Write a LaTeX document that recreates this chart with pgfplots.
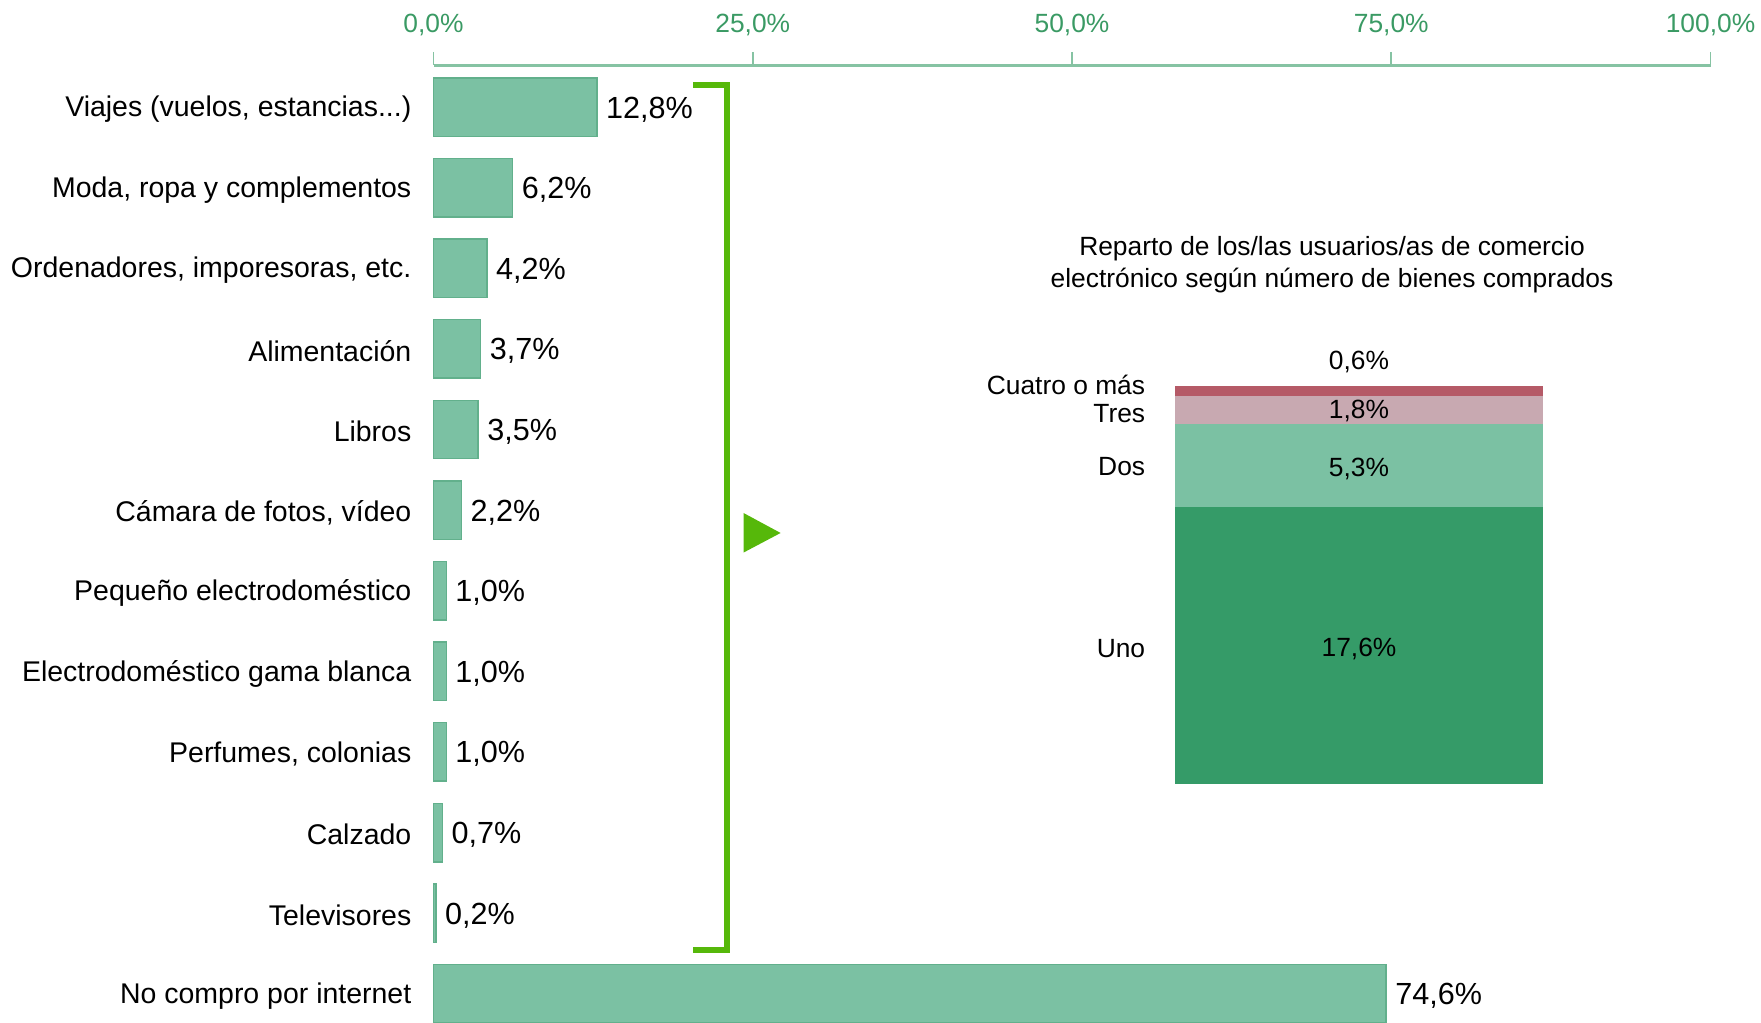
\documentclass[border=0pt]{standalone}
\usepackage{fontspec}
\setmainfont{Liberation Sans}
\usepackage{pgfplots}
\pgfplotsset{compat=1.18}

\definecolor{barfill}{HTML}{7BC1A3}
\definecolor{bardraw}{HTML}{62B08C}
\definecolor{unogreen}{HTML}{359B68}
\definecolor{tresrose}{HTML}{C8A9B1}
\definecolor{cuatrored}{HTML}{B55A67}
\definecolor{brgreen}{HTML}{56B80A}
\definecolor{tickgreen}{HTML}{3A9A64}
\definecolor{axisgreen}{HTML}{86C3A3}

\newcommand{\catfont}{\fontsize{8.1}{9.7}\selectfont}
\newcommand{\valfont}{\fontsize{8.7}{10.4}\selectfont}
\newcommand{\smallfont}{\fontsize{7.5}{9}\selectfont}

\begin{document}
\begin{tikzpicture}
\useasboundingbox (0,0) rectangle (176.1mm,102.3mm);

% main bar chart
\begin{axis}[
  at={(43.35mm,0mm)}, anchor=south west,
  scale only axis, width=127.7mm, height=95.75mm,
  xbar, bar width=5.84mm,
  xmin=0, xmax=100, ymin=-0.362, ymax=11.517,
  axis x line*=top, axis y line*=left,
  y axis line style={draw=none},
  x axis line style={draw=axisgreen, line width=0.6pt},
  xtick={0,25,50,75,100},
  xticklabels={{0,0\%},{25,0\%},{50,0\%},{75,0\%},{100,0\%}},
  xtick align=outside, major tick length=1.35mm,
  xtick style={draw=axisgreen, line width=0.5pt},
  xticklabel style={font=\smallfont, text=tickgreen, anchor=base, inner sep=0pt, yshift=1.95mm},
  ytick={0,1,2,3,4,5,6,7,8,9,10,11},
  yticklabels={No compro por internet, Televisores, Calzado, {Perfumes, colonias},
    Electrodoméstico gama blanca, Pequeño electrodoméstico, {Cámara de fotos, vídeo},
    Libros, Alimentación, {Ordenadores, imporesoras, etc.},
    {Moda, ropa y complementos}, {Viajes (vuelos, estancias.{}.{}.)}},
  ytick style={draw=none},
  yticklabel style={font=\catfont, anchor=east, inner sep=0pt, xshift=-0.8mm, yshift=-0.22mm},
  point meta=x,
  /pgf/number format/assume math mode=true,
  nodes near coords={\pgfmathprintnumber[fixed,fixed zerofill,precision=1,use comma]{\pgfplotspointmeta}\%},
  nodes near coords style={font=\valfont, anchor=west, inner sep=0pt, xshift=0.84mm, yshift=-0.22mm},
  clip=false,
]
\addplot[fill=barfill, draw=bardraw, line width=0.4pt] coordinates {
  (74.6,0) (0.2,1) (0.7,2) (1.0,3) (1.0,4) (1.0,5)
  (2.2,6) (3.5,7) (3.7,8) (4.2,9) (6.2,10) (12.8,11)};
\end{axis}

% stacked bar: number of goods bought
\begin{axis}[
  at={(117.48mm,23.9mm)}, anchor=south west,
  scale only axis, width=36.84mm, height=39.76mm,
  ybar stacked, bar width=36.84mm,
  xmin=-0.5, xmax=0.5, ymin=0, ymax=25.3,
  hide axis, clip=false,
]
\addplot[fill=unogreen, draw=none] coordinates {(0,17.6)};
\addplot[fill=barfill, draw=none] coordinates {(0,5.3)};
\addplot[fill=tresrose, draw=none] coordinates {(0,1.8)};
\addplot[fill=cuatrored, draw=none] coordinates {(0,0.6)};
\coordinate (v1) at (axis cs:0,8.72);
\coordinate (v2) at (axis cs:0,20.23);
\coordinate (v3) at (axis cs:0,23.87);
\coordinate (v4) at (axis cs:0,27.02);
\coordinate (c1) at (axis cs:-0.5,8.8);
\coordinate (c2) at (axis cs:-0.5,20.35);
\coordinate (c3) at (axis cs:-0.5,23.73);
\coordinate (c4) at (axis cs:-0.5,25.52);
\end{axis}

\begin{scope}[every node/.style={font=\smallfont, yshift=-0.25mm}]
\node at (v1) {17,6\%};
\node at (v2) {5,3\%};
\node at (v3) {1,8\%};
\node at (v4) {0,6\%};
\end{scope}
\begin{scope}[every node/.style={font=\smallfont, anchor=east, inner sep=0pt, xshift=-2.9mm, yshift=-0.25mm}]
\node at (c1) {Uno};
\node at (c2) {Dos};
\node at (c3) {Tres};
\node at (c4) {Cuatro o más};
\end{scope}

\node[font=\smallfont, align=center] at (133.2mm,75.8mm)
  {Reparto de los/las usuarios/as de comercio\\electrónico según número de bienes comprados};

% bracket and arrow
\draw[brgreen, line width=0.6mm] (69.3mm,93.76mm) -- (72.67mm,93.76mm) -- (72.67mm,7.3mm) -- (69.3mm,7.3mm);
\fill[brgreen] (74.35mm,51.0mm) -- (78.06mm,49.0mm) -- (74.35mm,47.04mm) -- cycle;
\end{tikzpicture}
\end{document}
